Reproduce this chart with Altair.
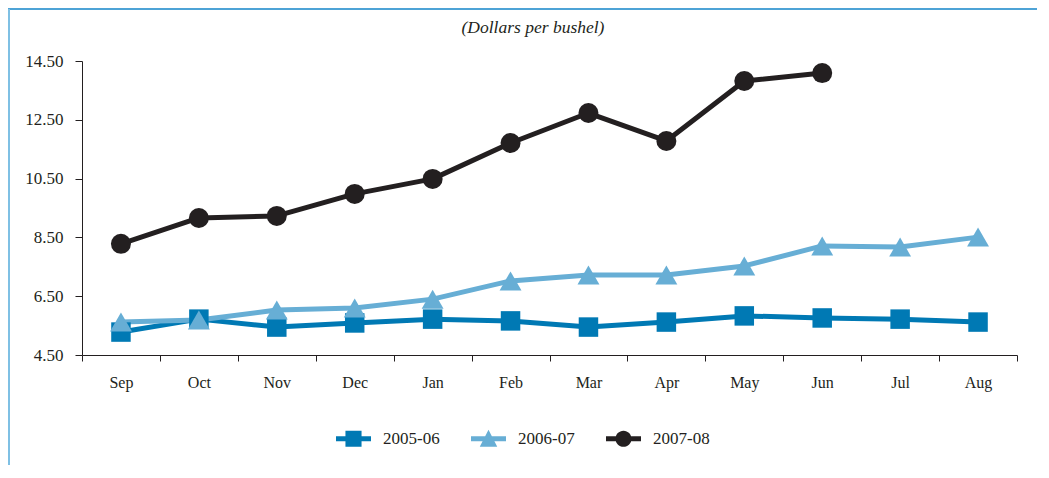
import altair as alt
import pandas as pd

months = ["Sep", "Oct", "Nov", "Dec", "Jan", "Feb", "Mar", "Apr", "May", "Jun", "Jul", "Aug"]
series_names = ["2005-06", "2006-07", "2007-08"]
v_2005_06 = [5.28, 5.72, 5.45, 5.59, 5.72, 5.66, 5.45, 5.62, 5.83, 5.76, 5.72, 5.62]
v_2006_07 = [5.62, 5.69, 6.03, 6.10, 6.40, 7.02, 7.22, 7.22, 7.53, 8.21, 8.17, 8.51]
v_2007_08 = [8.28, 9.16, 9.23, 9.98, 10.49, 11.71, 12.73, 11.78, 13.82, 14.09]
y_ticks = [4.5, 6.5, 8.5, 10.5, 12.5, 14.5]
subtitle = "(Dollars per bushel)"

colors = ["#0079b4", "#67aed5", "#231f20"]
shapes = ["square", "triangle-up", "circle"]
sizes = [380, 480, 400]

rows = []
for name, vals in zip(series_names, [v_2005_06, v_2006_07, v_2007_08]):
    for m, v in zip(months, vals):
        rows.append({"month": m, "price": v, "series": name})
df = pd.DataFrame(rows)

FONT = "Liberation Serif"
INK = "#231f20"

sq = "M-1,-0.14H1V0.14H-1Z M-0.46,-0.46H0.46V0.46H-0.46Z"
tri = "M-1,-0.14H1V0.14H-1Z M0,-0.52L0.5,0.46L-0.5,0.46Z"
cir = "M-1,-0.14H1V0.14H-1Z M-0.46,0A0.46,0.46 0 1,1 0.46,0A0.46,0.46 0 1,1 -0.46,0Z"
shape_sig = f"datum.value === '2005-06' ? '{sq}' : datum.value === '2006-07' ? '{tri}' : '{cir}'"
fill_sig = f"datum.value === '2005-06' ? '{colors[0]}' : datum.value === '2006-07' ? '{colors[1]}' : '{colors[2]}'"

legend = alt.Legend(
    title=None,
    orient="none",
    direction="horizontal",
    legendX=254,
    legendY=360,
    symbolSize=1225,
    symbolType=alt.ExprRef(expr=shape_sig),
    symbolFillColor=alt.ExprRef(expr=fill_sig),
    symbolStrokeColor=alt.ExprRef(expr=fill_sig),
    symbolStrokeWidth=0,
    symbolOpacity=1,
    labelFont=FONT,
    labelFontSize=17,
    labelColor=INK,
    labelOffset=12,
    columnPadding=31,
)

x_enc = alt.X(
    "month:N",
    sort=months,
    bandPosition=0.5,
    scale=alt.Scale(type="band", paddingInner=0, paddingOuter=0),
    axis=alt.Axis(
        title=None,
        tickBand="extent",
        labelAngle=0,
        labelFont=FONT,
        labelFontSize=16,
        labelColor=INK,
        labelPadding=13,
        tickSize=6,
        tickColor=INK,
        domainColor=INK,
        grid=False,
    ),
)
y_enc = alt.Y(
    "price:Q",
    scale=alt.Scale(domain=[4.5, 14.5], nice=False, zero=False),
    axis=alt.Axis(
        title=None,
        values=y_ticks,
        format=".2f",
        labelFont=FONT,
        labelFontSize=17,
        labelColor=INK,
        labelPadding=12,
        tickSize=7,
        tickColor=INK,
        domainColor=INK,
        grid=False,
    ),
)
color_enc = alt.Color(
    "series:N",
    scale=alt.Scale(domain=series_names, range=colors),
    legend=legend,
)

base = alt.Chart(df)
lines = base.mark_line(strokeWidth=5, strokeJoin="round").encode(
    x=x_enc, y=y_enc, color=color_enc, detail="series:N"
)
point_layers = []
for name, shp, sz in zip(series_names, shapes, sizes):
    point_layers.append(
        base.transform_filter(alt.datum.series == name)
        .mark_point(filled=True, opacity=1, strokeWidth=0, shape=shp, size=sz)
        .encode(x=x_enc, y=y_enc, color=color_enc)
    )

one = pd.DataFrame({"label": [subtitle]})
title_text = alt.Chart(one).mark_text(
    font=FONT, fontSize=17.5, fontStyle="italic", color=INK, baseline="middle", align="center"
).encode(x=alt.value(451), y=alt.value(-33), text="label:N")

frame_top = alt.Chart(one).mark_rule(color="#4ea3d6", strokeWidth=2).encode(
    x=alt.value(-74), x2=alt.value(960), y=alt.value(-52)
)
frame_left = alt.Chart(one).mark_rule(color="#7fc0e4", strokeWidth=2).encode(
    x=alt.value(-73), y=alt.value(-52), y2=alt.value(420)
)

chart = (
    alt.layer(frame_top, frame_left, title_text, lines, *point_layers)
    .properties(
        width=935,
        height=294,
        autosize=alt.AutoSizeParams(type="none"),
        padding={"left": 74, "top": 53, "right": 20, "bottom": 110},
        background="white",
    )
    .configure_view(stroke=None)
    .configure_legend(labelFont=FONT, labelFontSize=17, labelColor=INK)
)

chart.save("out.html", embed_options={"renderer": "svg", "actions": False})
